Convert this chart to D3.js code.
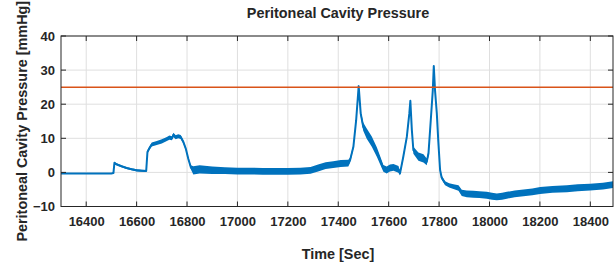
<!DOCTYPE html>
<html><head><meta charset="utf-8">
<script src="https://cdn.jsdelivr.net/npm/d3@7"></script>
<style>body{margin:0;background:#fff}svg{display:block}text{font-family:"Liberation Sans",Arial,sans-serif;font-weight:bold;fill:#262626}</style>
</head><body><svg id="c" width="615" height="265"></svg>
<script>
const times = [16300,16400,16500,16508,16512,16520,16540,16560,16580,16600,16620,16638,16643,16650,16660,16680,16700,16720,16730,16740,16746,16755,16765,16775,16785,16795,16805,16815,16825,16850,16900,16950,17000,17050,17100,17150,17200,17250,17290,17320,17350,17380,17410,17440,17447,17460,17471,17481,17489,17499,17513,17533,17553,17566,17579,17592,17605,17619,17639,17645,17658,17672,17682,17686,17692,17698,17718,17738,17751,17758,17767,17775,17779,17784,17791,17797,17804,17810,17824,17840,17857,17877,17890,17910,17936,17960,17989,18010,18029,18050,18069,18100,18135,18170,18201,18250,18307,18350,18399,18450,18490];
const pressure = [-0.3,-0.3,-0.3,-0.2,2.8,2.4,1.8,1.3,0.9,0.6,0.5,0.4,6.0,7.0,8.2,8.6,9.1,9.8,10.2,10.0,11.0,10.3,10.6,10.4,9.0,7.0,4.0,1.5,0.6,0.9,0.6,0.5,0.4,0.4,0.3,0.3,0.3,0.4,0.6,1.3,2.0,2.3,2.6,2.7,3.6,7.5,15.3,25.3,17.3,13.4,11.4,9.0,6.0,3.6,1.2,0.7,1.3,1.5,0.9,-0.3,4.6,10.4,17.3,21.0,12.4,6.5,4.6,4.1,3.1,5.6,15.3,24.0,31.2,24.0,17.3,9.0,0.7,-1.5,-3.2,-3.8,-4.2,-4.6,-6.0,-6.3,-6.4,-6.5,-6.7,-7.0,-7.2,-7.0,-6.7,-6.3,-6.0,-5.7,-5.3,-5.0,-4.8,-4.5,-4.3,-4.0,-3.6];
const noise = [0.15,0.15,0.15,0.15,0.3,0.3,0.3,0.3,0.3,0.3,0.3,0.3,0.5,0.5,0.6,0.6,0.6,0.6,0.6,0.6,0.6,0.6,0.6,0.6,0.5,0.4,0.4,0.6,1.2,1.2,1.1,1.0,1.0,1.0,1.0,1.0,1.0,1.0,1.0,1.0,1.0,1.0,1.0,1.0,0.8,0.6,0.5,0.3,0.8,1.2,1.5,1.5,1.4,1.2,1.0,1.0,1.0,1.0,1.0,0.6,0.6,0.5,0.4,0.3,0.5,1.0,1.2,1.2,1.0,0.8,0.5,0.4,0.3,0.4,0.4,0.4,0.5,0.6,0.6,0.6,0.7,0.8,0.9,1.0,1.0,1.0,1.0,1.0,1.0,1.0,1.0,1.0,1.0,1.0,1.0,1.0,1.0,1.0,1.0,1.0,1.0];
const threshold = 25;
const xTicks = [16400,16600,16800,17000,17200,17400,17600,17800,18000,18200,18400];
const yTicks = [-10,0,10,20,30,40];

const svg = d3.select("#c");
const L=61,R=613,T=36,B=206.5;
const x = d3.scaleLinear().domain([16300,18490]).range([L,R]);
const y = d3.scaleLinear().domain([-10,40]).range([B,T]);

const g = svg.append("g");
g.selectAll(".gx").data(xTicks).join("line").attr("x1",d=>x(d)).attr("x2",d=>x(d)).attr("y1",T).attr("y2",B).attr("stroke","#dfdfdf").attr("stroke-width",1);
g.selectAll(".gy").data(yTicks).join("line").attr("y1",d=>y(d)).attr("y2",d=>y(d)).attr("x1",L).attr("x2",R).attr("stroke","#dfdfdf").attr("stroke-width",1);

const data = times.map((t,i)=>({t,v:pressure[i],n:noise[i]}));
g.append("path").datum(data).attr("fill","#0072BD")
 .attr("d",d3.area().x(d=>x(d.t)).y0(d=>y(d.v-d.n)).y1(d=>y(d.v+d.n)));
g.append("path").datum(data).attr("fill","none").attr("stroke","#0072BD").attr("stroke-width",2).attr("stroke-linejoin","round")
 .attr("d",d3.line().x(d=>x(d.t)).y(d=>y(d.v)));
g.append("line").attr("x1",L).attr("x2",R).attr("y1",y(threshold)).attr("y2",y(threshold)).attr("stroke","#D95319").attr("stroke-width",1.5);

const tl=5;
const ax = d3.axisBottom(x).tickValues(xTicks).tickSize(0).tickPadding(10.5).tickFormat(d3.format("d"));
const gb = svg.append("g").attr("transform",`translate(0,${B})`).call(ax);
const ay = d3.axisLeft(y).tickValues(yTicks).tickSize(0).tickPadding(6);
const gl = svg.append("g").attr("transform",`translate(${L},0)`).call(ay);
[gb,gl].forEach(a=>{a.select(".domain").remove();a.selectAll("text").style("font-size","13px").attr("fill","#262626");});
const tk = svg.append("g").attr("stroke","#262626").attr("stroke-width",1);
xTicks.forEach(d=>{tk.append("line").attr("x1",x(d)).attr("x2",x(d)).attr("y1",B).attr("y2",B-tl);tk.append("line").attr("x1",x(d)).attr("x2",x(d)).attr("y1",T).attr("y2",T+tl);});
yTicks.forEach(d=>{tk.append("line").attr("y1",y(d)).attr("y2",y(d)).attr("x1",L).attr("x2",L+tl);tk.append("line").attr("y1",y(d)).attr("y2",y(d)).attr("x1",R).attr("x2",R-tl);});
svg.append("rect").attr("x",L).attr("y",T).attr("width",R-L).attr("height",B-T).attr("fill","none").attr("stroke","#262626").attr("stroke-width",1);

svg.append("text").attr("x",338).attr("y",18).attr("text-anchor","middle").style("font-size","14.4px").text("Peritoneal Cavity Pressure");
svg.append("text").attr("x",338).attr("y",259).attr("text-anchor","middle").style("font-size","14.4px").text("Time [Sec]");
svg.append("text").attr("transform",`translate(27,${(T+B)/2}) rotate(-90)`).attr("text-anchor","middle").style("font-size","14.4px").text("Peritoneal Cavity Pressure [mmHg]");
</script></body></html>
